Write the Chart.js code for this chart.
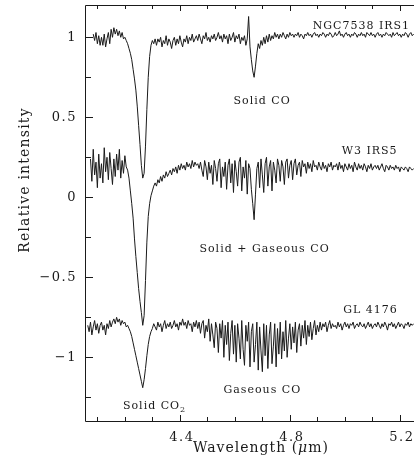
<!DOCTYPE html>
<html><head><meta charset="utf-8">
<script src="https://cdn.jsdelivr.net/npm/chart.js@4.4.0/dist/chart.umd.min.js"></script>
<style>html,body{margin:0;padding:0;background:#fff;overflow:hidden}canvas{display:block}</style>
</head><body>
<canvas id="c" width="414" height="460"></canvas>
<script>
// Wavelength grid (micron): first sample and spacing
const wlStart = 4.065;
const wlStep = 0.005;

// NGC7538 IRS1 (top spectrum)
const ngc7538 = [
 null, null, null, null, 1.02, 0.98, 1.03, 0.96, 1.01, 0.95,
 1.00, 0.95, 1.02, 0.94, 0.99, 1.03, 0.96, 1.05, 1.00, 1.06,
 1.02, 1.05, 1.01, 1.04, 1.00, 1.03, 0.99, 1.00, 0.98, 0.96,
 0.93, 0.90, 0.86, 0.80, 0.74, 0.67, 0.57, 0.45, 0.33, 0.20,
 0.12, 0.15, 0.32, 0.55, 0.75, 0.88, 0.95, 0.98, 0.96, 0.99,
 0.95, 0.99, 0.97, 1.00, 0.94, 0.98, 0.96, 1.01, 0.95, 0.99,
 0.97, 0.93, 0.98, 1.00, 0.95, 0.99, 0.96, 1.01, 0.97, 0.94,
 0.99, 0.97, 1.01, 0.96, 1.00, 0.98, 1.02, 0.97, 0.99, 1.01,
 0.98, 1.02, 0.99, 0.96, 1.01, 0.99, 1.03, 0.98, 1.00, 0.97,
 1.01, 0.99, 1.02, 0.98, 1.00, 1.03, 0.99, 1.01, 0.97, 1.02,
 0.99, 1.01, 0.96, 1.02, 0.98, 1.00, 1.03, 0.97, 1.01, 0.99,
 1.02, 0.96, 1.00, 0.98, 1.01, 0.95, 0.99, 1.13, 0.94, 0.86,
 0.79, 0.75, 0.82, 0.90, 0.96, 0.93, 0.98, 0.95, 1.00, 0.96,
 1.01, 0.97, 1.02, 0.98, 1.01, 0.99, 1.03, 1.00, 1.02, 0.99,
 1.02, 1.00, 1.03, 1.01, 0.99, 1.02, 1.00, 1.03, 1.01, 1.02,
 1.00, 1.02, 1.01, 1.03, 1.00, 1.02, 1.01, 0.99, 1.02, 1.01,
 1.03, 1.01, 1.02, 1.00, 1.02, 1.03, 1.01, 1.02, 1.00, 1.02,
 1.01, 1.03, 1.02, 1.00, 1.02, 1.01, 1.03, 1.02, 1.00, 1.01,
 1.03, 1.01, 1.02, 1.04, 1.01, 1.02, 1.00, 1.02, 1.03, 1.01,
 1.02, 1.00, 1.02, 1.01, 1.03, 1.02, 1.00, 1.02, 1.01, 1.03,
 1.01, 1.02, 1.00, 1.03, 1.02, 1.01, 1.03, 1.01, 1.02, 1.00,
 1.02, 1.03, 1.01, 1.02, 1.00, 1.02, 1.01, 1.03, 1.02, 1.01,
 1.02, 1.00, 1.03, 1.01, 1.02, 1.03, 1.01, 1.02, 1.00, 1.02,
 1.01, 1.03, 1.02, 1.00, 1.02, 1.03, 1.01, 1.02
];

// W3 IRS5 (middle spectrum)
const w3irs5 = [
 null, null, 0.24, 0.10, 0.30, 0.14, 0.22, 0.06, 0.27, 0.12,
 0.21, 0.09, 0.31, 0.16, 0.25, 0.11, 0.28, 0.18, 0.08, 0.24,
 0.13, 0.27, 0.17, 0.30, 0.12, 0.23, 0.15, 0.26, 0.19, 0.17,
 0.12, 0.04, -0.04, -0.13, -0.26, -0.37, -0.47, -0.57, -0.65, -0.72,
 -0.80, -0.74, -0.52, -0.28, -0.12, -0.04, 0.01, 0.04, 0.07, 0.09,
 0.07, 0.11, 0.09, 0.13, 0.10, 0.14, 0.12, 0.16, 0.13, 0.15,
 0.17, 0.14, 0.18, 0.16, 0.19, 0.15, 0.20, 0.17, 0.21, 0.18,
 0.20, 0.17, 0.22, 0.19, 0.21, 0.18, 0.23, 0.19, 0.22, 0.20,
 0.21, 0.18, 0.22, 0.17, 0.13, 0.23, 0.19, 0.11, 0.22, 0.15,
 0.20, 0.08, 0.23, 0.18, 0.10, 0.21, 0.24, 0.06, 0.19, 0.13,
 0.22, 0.05, 0.20, 0.24, 0.09, 0.21, 0.03, 0.23, 0.16, 0.07,
 0.22, 0.25, 0.04, 0.19, 0.12, 0.23, 0.02, 0.21, 0.18, 0.05,
 -0.04, -0.14, 0.02, 0.18, 0.22, 0.06, 0.24, 0.14, 0.03, 0.21,
 0.25, 0.07, 0.19, 0.23, 0.04, 0.22, 0.17, 0.09, 0.24, 0.20,
 0.10, 0.23, 0.19, 0.08, 0.22, 0.24, 0.12, 0.20, 0.23, 0.11,
 0.21, 0.24, 0.14, 0.20, 0.22, 0.13, 0.23, 0.19, 0.21, 0.15,
 0.22, 0.18, 0.21, 0.16, 0.23, 0.19, 0.20, 0.17, 0.22, 0.19,
 0.17, 0.22, 0.18, 0.20, 0.16, 0.21, 0.19, 0.22, 0.17, 0.20,
 0.19, 0.21, 0.17, 0.22, 0.18, 0.20, 0.16, 0.21, 0.19, 0.17,
 0.21, 0.18, 0.20, 0.16, 0.22, 0.19, 0.17, 0.21, 0.18, 0.20,
 0.17, 0.21, 0.19, 0.16, 0.20, 0.18, 0.21, 0.17, 0.19, 0.20,
 0.18, 0.20, 0.17, 0.19, 0.21, 0.18, 0.16, 0.20, 0.19, 0.17,
 0.20, 0.18, 0.19, 0.17, 0.20, 0.18, 0.19, 0.16, 0.19, 0.18,
 0.17, 0.19, 0.18, 0.16, 0.19, 0.18, 0.17, 0.18
];

// GL 4176 (bottom spectrum)
const gl4176 = [
 -0.80, -0.84, -0.78, -0.86, -0.81, -0.77, -0.83, -0.79, -0.85, -0.80,
 -0.78, -0.83, -0.80, -0.86, -0.79, -0.82, -0.77, -0.81, -0.78, -0.76,
 -0.79, -0.75, -0.78, -0.76, -0.80, -0.77, -0.79, -0.78, -0.81, -0.80,
 -0.82, -0.84, -0.87, -0.91, -0.95, -0.99, -1.03, -1.07, -1.11, -1.15,
 -1.19, -1.14, -1.07, -0.99, -0.92, -0.87, -0.84, -0.82, -0.79, -0.81,
 -0.83, -0.78, -0.81, -0.79, -0.84, -0.80, -0.77, -0.82, -0.79, -0.81,
 -0.78, -0.82, -0.80, -0.77, -0.81, -0.79, -0.83, -0.78, -0.80, -0.76,
 -0.80, -0.78, -0.82, -0.77, -0.80, -0.79, -0.84, -0.78, -0.81, -0.77,
 -0.82, -0.78, -0.85, -0.79, -0.77, -0.88, -0.80, -0.84, -0.76, -0.90,
 -0.79, -0.86, -0.94, -0.78, -0.82, -0.97, -0.79, -0.88, -0.77, -1.00,
 -0.80, -0.92, -0.78, -1.02, -0.85, -0.77, -0.98, -0.80, -1.03, -0.79,
 -0.88, -1.01, -0.77, -0.95, -1.05, -0.80, -0.90, -0.78, -1.06, -0.84,
 -0.79, -1.03, -0.92, -0.78, -1.08, -0.81, -0.96, -1.09, -0.79, -0.99,
 -0.80, -1.07, -0.86, -0.78, -1.04, -0.93, -0.79, -1.06, -0.82, -0.98,
 -0.78, -1.01, -0.84, -0.96, -0.77, -1.00, -0.88, -0.79, -0.95, -0.81,
 -0.91, -0.78, -0.97, -0.83, -0.79, -0.93, -0.80, -0.88, -0.77, -0.92,
 -0.80, -0.87, -0.78, -0.89, -0.82, -0.77, -0.86, -0.80, -0.84, -0.78,
 -0.83, -0.79, -0.81, -0.78, -0.84, -0.80, -0.77, -0.82, -0.79, -0.81,
 -0.80, -0.82, -0.78, -0.81, -0.79, -0.83, -0.80, -0.78, -0.81, -0.79,
 -0.82, -0.79, -0.80, -0.78, -0.82, -0.80, -0.79, -0.81, -0.78, -0.80,
 -0.81, -0.79, -0.82, -0.80, -0.78, -0.81, -0.79, -0.82, -0.80, -0.79,
 -0.81, -0.78, -0.80, -0.82, -0.79, -0.81, -0.78, -0.80, -0.83, -0.79,
 -0.80, -0.78, -0.81, -0.79, -0.82, -0.80, -0.78, -0.81, -0.79, -0.80,
 -0.82, -0.79, -0.80, -0.78, -0.81, -0.79, -0.80, -0.79
];

// Axis ticks and labels
const xMajorTicks = [4.4, 4.8, 5.2];
const xTickLabels = ['4.4', '4.8', '5.2'];
const xMinorTicks = [4.1, 4.2, 4.3, 4.5, 4.6, 4.7, 4.9, 5.0, 5.1];
const yMajorTicks = [1, 0.5, 0, -0.5, -1];
const yTickLabels = ['1', '0.5', '0', '\u22120.5', '\u22121'];
const yMinorTicks = [0.75, 0.25, -0.25, -0.75, -1.25];

// Annotation texts (anchored in data coordinates)
const annoTexts = ['NGC7538 IRS1', 'Solid CO', 'W3 IRS5', 'Solid + Gaseous CO', 'GL 4176', 'Gaseous CO', 'Solid CO'];
const annoWl = [5.060, 4.699, 5.090, 4.708, 5.093, 4.700, 4.193];
const annoVal = [1.049, 0.583, 0.271, -0.339, -0.723, -1.223, -1.323];

const wavelengths = ngc7538.map((_, i) => +(wlStart + i * wlStep).toFixed(3));
const toPts = arr => arr.map((v, i) => v === null ? null : { x: wavelengths[i], y: v }).filter(p => p);

const SERIF = '"DejaVu Serif", "Liberation Serif", serif';
const INK = '#1a1a1a';

const framePlugin = {
  id: 'frame',
  afterDraw(chart) {
    const { ctx, chartArea: a, scales: { x, y } } = chart;
    ctx.save();
    ctx.strokeStyle = INK;
    ctx.lineWidth = 1;
    ctx.beginPath();
    ctx.moveTo(a.right, a.top + 0.5); ctx.lineTo(a.left + 0.5, a.top + 0.5);
    ctx.lineTo(a.left + 0.5, a.bottom + 0.5); ctx.lineTo(a.right, a.bottom + 0.5);
    yMajorTicks.forEach(v => { const py = Math.round(y.getPixelForValue(v)) + 0.5; ctx.moveTo(a.left, py); ctx.lineTo(a.left + 8, py); });
    yMinorTicks.forEach(v => { const py = Math.round(y.getPixelForValue(v)) + 0.5; ctx.moveTo(a.left, py); ctx.lineTo(a.left + 6, py); });
    xMajorTicks.forEach(v => { const px = Math.round(x.getPixelForValue(v)) + 0.5; ctx.moveTo(px, a.bottom); ctx.lineTo(px, a.bottom - 6); ctx.moveTo(px, a.top); ctx.lineTo(px, a.top + 6); });
    xMinorTicks.forEach(v => { const px = Math.round(x.getPixelForValue(v)) + 0.5; ctx.moveTo(px, a.bottom); ctx.lineTo(px, a.bottom - 4); ctx.moveTo(px, a.top); ctx.lineTo(px, a.top + 4); });
    ctx.stroke();

    ctx.fillStyle = INK;
    ctx.font = '13px ' + SERIF;
    ctx.letterSpacing = '1.5px';
    ctx.textAlign = 'right';
    ctx.textBaseline = 'middle';
    yMajorTicks.forEach((v, i) => ctx.fillText(yTickLabels[i], a.left - 8, y.getPixelForValue(v)));
    ctx.textAlign = 'center';
    ctx.textBaseline = 'alphabetic';
    xMajorTicks.forEach((v, i) => ctx.fillText(xTickLabels[i], x.getPixelForValue(v) + 2, 441));

    ctx.font = '14px ' + SERIF;
    ctx.letterSpacing = '1px';
    ctx.textAlign = 'left';
    const p1 = 'Wavelength (', p3 = 'm)';
    const w1 = ctx.measureText(p1).width, w3 = ctx.measureText(p3).width;
    ctx.font = 'italic 14px ' + SERIF;
    const w2 = ctx.measureText('\u03bc').width;
    const sx = 261 - (w1 + w2 + w3) / 2;
    ctx.font = '14px ' + SERIF;
    ctx.fillText(p1, sx, 452);
    ctx.font = 'italic 14px ' + SERIF;
    ctx.fillText('\u03bc', sx + w1, 452);
    ctx.font = '14px ' + SERIF;
    ctx.fillText(p3, sx + w1 + w2, 452);

    ctx.save();
    ctx.translate(29, 180);
    ctx.rotate(-Math.PI / 2);
    ctx.textAlign = 'center';
    ctx.letterSpacing = '1.2px';
    ctx.fillText('Relative intensity', 0, 0);
    ctx.restore();

    ctx.font = '11px ' + SERIF;
    ctx.letterSpacing = '1px';
    annoTexts.forEach((t, i) => {
      const px = x.getPixelForValue(annoWl[i]), py = y.getPixelForValue(annoVal[i]);
      if (i === annoTexts.length - 1) {
        ctx.textAlign = 'left';
        ctx.fillText(t, px, py);
        const w = ctx.measureText(t).width;
        ctx.font = '8px ' + SERIF;
        ctx.fillText('2', px + w, py + 3);
        ctx.font = '11px ' + SERIF;
      } else {
        ctx.textAlign = 'center';
        ctx.fillText(t, px, py);
      }
    });
    ctx.restore();
  }
};

const lineStyle = { borderColor: INK, borderWidth: 1, pointRadius: 0, tension: 0, fill: false };

new Chart(document.getElementById('c'), {
  type: 'line',
  data: {
    datasets: [
      { label: 'NGC7538 IRS1', data: toPts(ngc7538), ...lineStyle },
      { label: 'W3 IRS5', data: toPts(w3irs5), ...lineStyle },
      { label: 'GL 4176', data: toPts(gl4176), ...lineStyle }
    ]
  },
  options: {
    responsive: false,
    devicePixelRatio: 1,
    animation: false,
    layout: { padding: { left: 85, top: 5, right: 0, bottom: 39 } },
    scales: {
      x: { type: 'linear', min: 4.055, max: 5.2514, display: false },
      y: { type: 'linear', min: -1.398, max: 1.2019, display: false }
    },
    plugins: { legend: { display: false }, tooltip: { enabled: false } },
    events: []
  },
  plugins: [framePlugin]
});
</script>
</body></html>
